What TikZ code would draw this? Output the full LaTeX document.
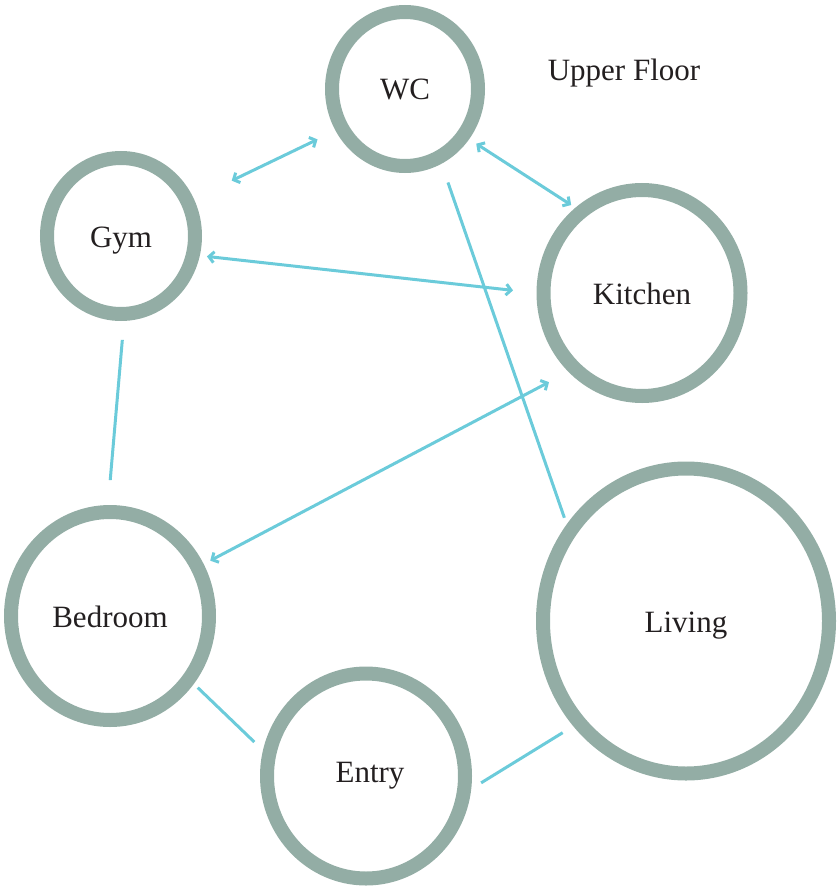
\documentclass[tikz,border=0pt]{standalone}
\usepackage{fontspec}
\setmainfont{Liberation Serif}
\usetikzlibrary{arrows.meta,shapes.geometric}
\definecolor{ringgray}{HTML}{93ADA5}
\definecolor{linkblue}{HTML}{6BCBDA}
\definecolor{labelink}{HTML}{231F20}

\begin{document}
\begin{tikzpicture}[x=0.5pt,y=-0.5pt,>={Straight Barb[length=2.5pt,width=5.5pt]}]
  \tikzstyle{room}=[ellipse,draw=ringgray,line width=7pt,text=labelink,font=\fontsize{15.5}{18}\selectfont,inner sep=0pt,text height=11pt,text depth=0pt]
  \tikzstyle{link}=[draw=linkblue,line width=1.5pt]
  \useasboundingbox (0,0) rectangle (838,888);

  \node[room,minimum width=73pt,minimum height=77pt]     (WC)      at (405,89)  {WC};
  \node[room,minimum width=74pt,minimum height=78pt]     (Gym)     at (121,236) {Gym};
  \node[room,minimum width=98.5pt,minimum height=103pt]  (Kitchen) at (642,293) {Kitchen};
  \node[room,minimum width=99pt,minimum height=104pt]    (Bedroom) at (110,616) {Bedroom};
  \node[room,minimum width=143pt,minimum height=152.5pt] (Living)  at (686,621) {Living};
  \node[room,minimum width=99pt,minimum height=102.5pt,text height=6pt] (Entry) at (366,776) {\hspace{4pt}Entry};
  \node[text=labelink,font=\fontsize{15.5}{18}\selectfont,text height=11pt,text depth=0pt] (floor) at (624,70) {Upper Floor};

  \path[link]
    (Gym.27.7)     edge [<->,shorten <=21pt,shorten >=10pt]  (WC.211.7)
    (WC.-38.2)     edge [<->,shorten <=4.2pt,shorten >=2.5pt] (Kitchen.128.8)
    (Gym.-14.4)    edge [<->,shorten <=3.6pt,shorten >=11.8pt] (Kitchen.180)
    (Bedroom.29.4) edge [<->,shorten <=3.7pt,shorten >=11pt] (Kitchen.227.7)
    (WC.-64.8)     edge [shorten <=9.9pt,shorten >=3.5pt]  (Living.141.2)
    (Gym.-88.1)    edge [shorten <=9.5pt,shorten >=12.5pt] (Bedroom.91.7)
    (Bedroom.-39.9) edge [shorten <=2.7pt,shorten >=6pt]   (Entry.166)
    (Entry.-7.7)   edge [shorten <=5.8pt,shorten >=6.2pt]  (Living.223.1);
\end{tikzpicture}
\end{document}
